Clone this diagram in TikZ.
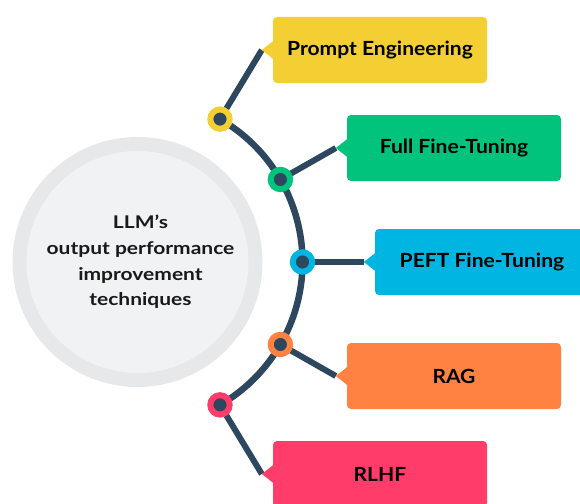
\documentclass[tikz,border=0pt]{standalone}
\usepackage{fontspec}
\setmainfont{Lato}
\newfontfamily\boxfont{Lato}[FakeStretch=1.08]
\newfontfamily\hubfont{Lato}[FakeStretch=1.2]
\usetikzlibrary{calc}
\definecolor{spine}{HTML}{2C475E}
\definecolor{cyel}{HTML}{F4CF33}
\definecolor{cgrn}{HTML}{01C37B}
\definecolor{cblu}{HTML}{00B5E2}
\definecolor{corg}{HTML}{FF8243}
\definecolor{cpnk}{HTML}{FF3C6A}
\definecolor{ringout}{HTML}{E7E8EA}
\definecolor{ringin}{HTML}{F1F2F4}
\tikzset{
  label box/.style={rectangle, rounded corners=4pt, minimum width=214pt,
    minimum height=66pt, inner sep=0pt, font=\boxfont\bfseries\fontsize{19.5}{22}\selectfont,
    text=black},
  hub/.style={circle, minimum size=19.4pt, inner sep=0pt, line width=6pt,
    fill=spine, draw=#1},
  link/.style={draw=spine, line width=6pt},
}
\begin{document}
\begin{tikzpicture}[x=1pt,y=-1pt]
\useasboundingbox (0,0) rectangle (580,503);
\clip (0,0) rectangle (580,503);
% central disc
\coordinate (c) at (137.5,262);
\fill[ringout] (c) circle[radius=125];
\fill[ringin] (c) circle[radius=111];
\node[align=center, font=\hubfont\bfseries\fontsize{17.5}{25.7}\selectfont, text=black!90]
  (title) at (140.5,262) {LLM’s\\output performance\\improvement\\techniques};
% spine arc
\draw[spine, line width=6.5pt] ($(c)+(-60:165)$) arc[start angle=-60, end angle=60, radius=165];
% hubs on the arc
\coordinate (h1) at ($(c)+(-60:165)$);
\coordinate (h2) at ($(c)+(-30:165)$);
\coordinate (h3) at ($(c)+(0:165)$);
\coordinate (h4) at ($(c)+(30:165)$);
\coordinate (h5) at ($(c)+(60:165)$);
% label boxes
\node[label box, fill=cyel] (b1) at (380,50)  {Prompt Engineering};
\node[label box, fill=cgrn] (b2) at (454,148) {Full Fine-Tuning};
\node[label box, fill=cblu] (b3) at (482,262) {PEFT Fine-Tuning};
\node[label box, fill=corg] (b4) at (454,376) {RAG};
\node[label box, fill=cpnk] (b5) at (380,474) {RLHF};
% pointer tips and connectors
\foreach \i/\col in {1/cyel,2/cgrn,3/cblu,4/corg,5/cpnk}{
  \coordinate (t\i) at ($(b\i.west)+(-11,0)$);
  \draw[link] (h\i) -- (t\i);
  \fill[\col] ($(b\i.west)+(0.5,-9)$) -- (t\i) -- ($(b\i.west)+(0.5,9)$) -- cycle;
  \node[hub=\col] (n\i) at (h\i) {};
}
\end{tikzpicture}
\end{document}
